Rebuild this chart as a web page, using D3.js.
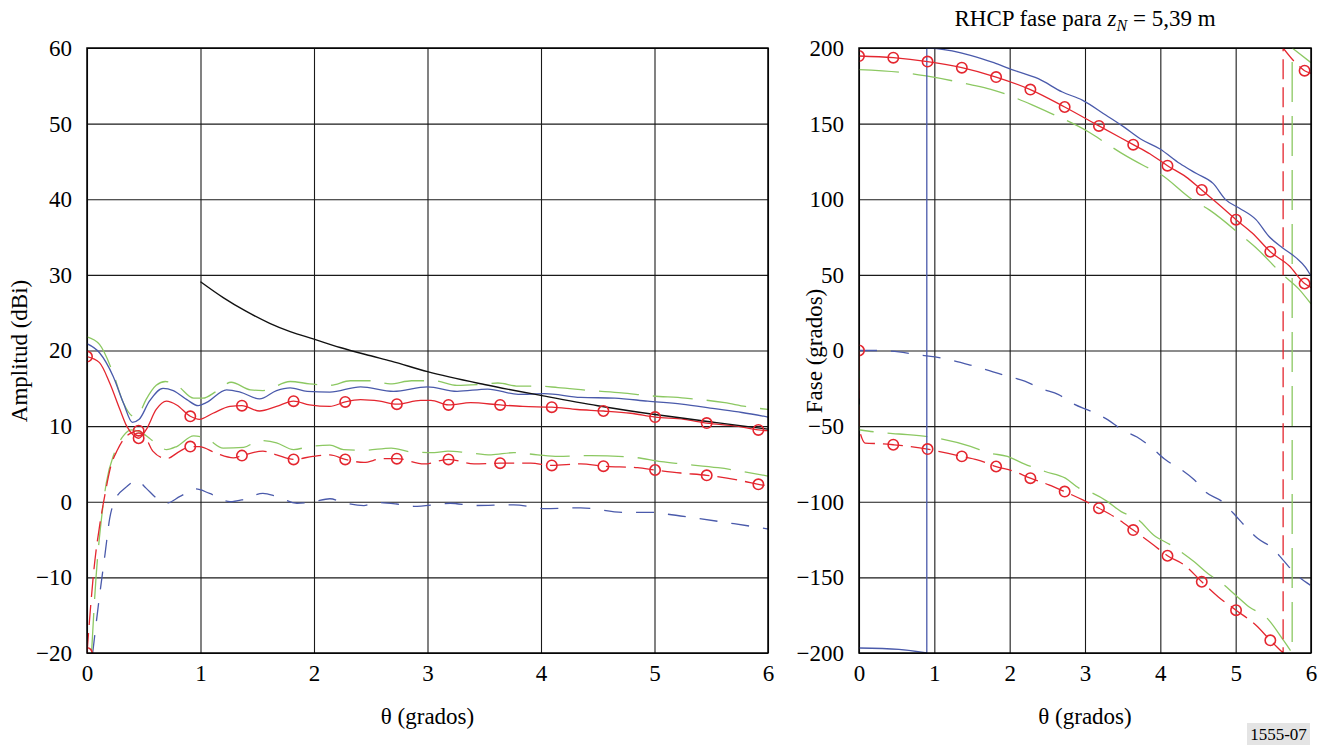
<!DOCTYPE html>
<html>
<head>
<meta charset="utf-8">
<script src="https://cdn.jsdelivr.net/npm/d3@7"></script>
<style>
  body { margin: 0; background: #fff; }
</style>
</head>
<body>
<svg id="chart" width="1334" height="746"></svg>
<script>
// theta values where the red series carry circle markers
const markTheta = [0, 0.455, 0.91, 1.365, 1.82, 2.275, 2.73, 3.185, 3.64, 4.095, 4.55, 5.005, 5.46, 5.915];

const thetaTicks = [0, 1, 2, 3, 4, 5, 6];
const ampTicks = [-20, -10, 0, 10, 20, 30, 40, 50, 60];
const phaseTicks = [-200, -150, -100, -50, 0, 50, 100, 150, 200];

// amplitude (dBi) vs theta, [theta, value]
const ampBlue = [[0,20.9],[0.11,19.7],[0.23,16.6],[0.32,13.1],[0.4,10.5],[0.46,10.9],[0.55,13.3],[0.67,15.0],[0.76,14.7],[0.88,13.5],[0.98,12.7],[1.05,13.1],[1.23,14.8],[1.35,14.5],[1.52,13.6],[1.67,14.7],[1.79,15.05],[1.94,14.6],[2.14,14.5],[2.41,15.2],[2.7,14.6],[3.0,15.2],[3.26,14.6],[3.53,14.9],[3.8,14.2],[4.03,14.3],[4.35,13.8],[4.65,13.7],[4.94,13.3],[5.24,12.9],[5.53,12.3],[5.77,11.8],[6.0,11.2]];
const ampGreen = [[0,21.8],[0.11,20.8],[0.23,17],[0.32,13.1],[0.41,11.3],[0.46,11.7],[0.52,13.5],[0.61,15.4],[0.69,15.9],[0.8,15.3],[0.94,13.7],[1.02,13.7],[1.14,14.6],[1.27,15.8],[1.44,14.8],[1.55,14.7],[1.79,15.9],[1.96,15.6],[2.14,15.4],[2.32,16.0],[2.5,16.0],[2.67,15.6],[2.86,16.0],[3.06,16.0],[3.26,15.4],[3.44,15.5],[3.62,15.7],[3.8,15.3],[3.97,15.3],[4.15,15.1],[4.44,14.7],[4.71,14.4],[4.97,14.0],[5.27,13.7],[5.62,13.1],[5.8,12.6],[6.0,12.2]];
const ampRed = [[0,19.2],[0.11,18.4],[0.2,15.7],[0.29,12.2],[0.35,10.0],[0.41,8.8],[0.455,8.4],[0.52,9.5],[0.61,12.2],[0.7,13.3],[0.79,12.8],[0.91,11.3],[0.99,10.9],[1.11,11.7],[1.26,12.6],[1.365,12.7],[1.52,12.0],[1.67,12.6],[1.82,13.3],[1.96,12.8],[2.14,12.6],[2.275,13.2],[2.41,13.5],[2.58,13.3],[2.73,12.9],[2.94,13.4],[3.03,13.4],[3.185,12.8],[3.38,13.1],[3.64,12.8],[3.84,12.6],[4.095,12.5],[4.32,12.2],[4.55,12.0],[4.79,11.7],[5.005,11.2],[5.26,10.9],[5.46,10.4],[5.73,10.0],[5.915,9.5],[6.0,9.4]];
const ampRedMarks = [19.2, 8.4, 11.3, 12.7, 13.3, 13.2, 12.9, 12.8, 12.8, 12.5, 12.0, 11.2, 10.4, 9.5];
const ampRedX = [[0,-20],[0.07,-7.7],[0.11,-3.3],[0.16,1.1],[0.21,4.7],[0.27,6.9],[0.33,8.4],[0.39,9.1],[0.455,9.4],[0.52,8.4],[0.58,6.7],[0.7,5.7],[0.82,6.7],[0.91,7.3],[0.99,7.3],[1.14,6.4],[1.29,5.8],[1.365,6.1],[1.55,6.7],[1.67,6.2],[1.82,5.6],[1.99,6.0],[2.14,6.2],[2.275,5.6],[2.44,5.2],[2.6,5.7],[2.73,5.7],[2.97,5.0],[3.185,5.6],[3.41,5.0],[3.64,5.1],[3.91,5.1],[4.095,4.8],[4.35,5.0],[4.55,4.7],[4.85,4.5],[5.005,4.2],[5.23,3.8],[5.46,3.5],[5.79,2.7],[5.915,2.3],[6.0,2.1]];
const ampRedXMarks = [-20, 9.4, 7.3, 6.1, 5.6, 5.6, 5.7, 5.6, 5.1, 4.8, 4.7, 4.2, 3.5, 2.3];
const ampGreenX = [[0.04,-20],[0.08,-9.9],[0.13,-1.9],[0.17,2.5],[0.24,6.4],[0.32,8.7],[0.39,9.5],[0.46,9.3],[0.55,8.4],[0.64,7.3],[0.7,6.9],[0.79,7.3],[0.94,8.7],[1.05,8.4],[1.2,7.1],[1.38,7.2],[1.52,8.1],[1.67,7.8],[1.82,6.9],[1.96,7.3],[2.14,7.5],[2.26,6.9],[2.44,6.8],[2.68,7.1],[2.85,6.6],[3.06,6.5],[3.18,6.7],[3.35,6.5],[3.56,6.2],[3.76,6.5],[3.97,6.2],[4.15,6.0],[4.44,6.1],[4.8,5.9],[5.06,5.3],[5.24,5.0],[5.56,4.5],[6.0,3.4]];
const ampBlueX = [[0.05,-20],[0.11,-12.5],[0.16,-6.8],[0.2,-2.2],[0.24,0],[0.35,2.0],[0.44,2.8],[0.52,1.8],[0.61,0.5],[0.7,-0.2],[0.82,0.7],[0.96,1.7],[1.08,1.1],[1.26,0],[1.38,0.3],[1.55,1.1],[1.67,0.7],[1.85,-0.2],[1.99,0],[2.14,0.4],[2.26,-0.1],[2.44,-0.5],[2.55,-0.1],[2.73,-0.3],[2.88,-0.6],[3.12,-0.3],[3.2,-0.2],[3.41,-0.5],[3.76,-0.4],[4.03,-0.9],[4.35,-0.8],[4.74,-1.4],[4.97,-1.4],[5.09,-1.6],[5.38,-2.2],[5.7,-2.9],[6.0,-3.6]];
const ampBlack = [[1,29.1],[1.2,27.0],[1.4,25.2],[1.61,23.6],[1.79,22.5],[2.0,21.5],[2.23,20.4],[2.5,19.3],[2.68,18.6],[3.0,17.2],[3.5,15.5],[4.02,14.0],[4.5,12.7],[5.02,11.5],[5.53,10.5],[6.0,9.6]];

// RHCP phase (grados) vs theta, [theta, value]; a repeated theta is a wrap
const phBlue = [[0,-196.7],[0.53,-197.6],[0.9,-200],[0.9,200],[1.03,199.6],[1.48,195.2],[1.79,190.3],[2.02,185.9],[2.38,179.7],[2.7,170.9],[2.97,165.4],[3.28,155.5],[3.51,148],[3.75,139.5],[3.99,133.4],[4.26,123.6],[4.48,117],[4.7,110.5],[4.87,99.6],[5.05,94.1],[5.27,86.5],[5.44,75.5],[5.62,67.9],[5.8,61.4],[5.93,54.8],[6.0,49.3]];
const phRed = [[0,194.7],[0.455,193.6],[0.91,191],[1.365,187],[1.82,180.8],[2.275,172.5],[2.73,161],[3.185,148.5],[3.64,136.1],[3.86,130.1],[4.095,122.2],[4.34,114.8],[4.55,106.1],[4.78,96.3],[5.005,86.5],[5.22,77.7],[5.46,65.3],[5.71,56],[5.915,44.3],[6.0,41.7]];
const phRedMarks = [194.7, 193.6, 191, 187, 180.8, 172.5, 161, 148.5, 136.1, 122.2, 106.1, 86.5, 65.3, 44.3];
const phRedX = [[0,0],[0,-52],[0.08,-61.2],[0.31,-61.7],[0.455,-62.3],[0.67,-63.4],[0.91,-65.2],[1.12,-67.4],[1.365,-70],[1.57,-72.3],[1.82,-76.7],[2.06,-80],[2.275,-84.4],[2.52,-88.8],[2.73,-93.3],[2.97,-98.8],[3.185,-104.3],[3.42,-110.9],[3.64,-118.7],[3.91,-128.6],[4.095,-135.7],[4.32,-141.9],[4.55,-152.9],[4.77,-162.9],[5.005,-171.7],[5.27,-181.7],[5.46,-191.6],[5.63,-200],[5.63,200],[5.84,188],[5.915,185],[6.0,183.3]];
const phRedXMarks = [0, -62.3, -65.2, -70, -76.7, -84.4, -93.3, -104.3, -118.7, -135.7, -152.9, -171.7, -191.6, 185];
const phGreen = [[0,185.7],[0.62,183.5],[0.89,181.5],[1.48,175.8],[1.75,172.7],[2.29,162.6],[2.54,157],[3.06,144.1],[3.28,137],[3.5,130],[3.77,122.5],[3.99,117],[4.43,99.6],[4.65,93],[5.09,75.5],[5.27,67.9],[5.62,50.4],[5.84,40.6],[6.0,30.8]];
const phGreenX = [[0,0],[0,-52.4],[0.26,-54.1],[0.53,-55.2],[1.03,-57.9],[1.48,-63.4],[1.73,-67.8],[1.97,-70],[2.2,-75.1],[2.47,-80],[2.74,-84.4],[2.92,-91],[3.08,-93.9],[3.3,-99.9],[3.48,-106.5],[3.71,-112],[3.91,-122],[4.14,-128.6],[4.45,-139.7],[4.63,-147.4],[4.82,-154],[5.0,-161.8],[5.18,-169.6],[5.4,-176.1],[5.64,-192],[5.75,-200],[5.75,200],[6.0,190.3]];
const phBlueX = [[0,0],[0.26,0],[0.53,-0.9],[0.76,-2.7],[1.01,-4.2],[1.48,-9.7],[1.73,-13.3],[1.97,-17],[2.2,-20.3],[2.43,-25.4],[2.65,-29.2],[2.85,-35.4],[3.08,-40.2],[3.3,-45.7],[3.49,-52.4],[3.69,-57.2],[3.89,-64.5],[4.07,-72.3],[4.27,-78.5],[4.45,-85.5],[4.61,-93.9],[4.82,-99.9],[4.97,-107.6],[5.13,-116.4],[5.29,-124.2],[5.49,-130.8],[5.63,-138.6],[5.81,-148.5],[5.99,-155.1]];

const BLUE = "#4a5aab", RED = "#e4262f", GREEN = "#8cc862";
const SERIF = "'Liberation Serif', 'DejaVu Serif', 'Times New Roman', serif";

const svg = d3.select("#chart").style("font-family", SERIF);
svg.append("rect").attr("width", 1334).attr("height", 746).attr("fill", "#fff");

const plotTop = 48, plotBottom = 653;

function label(sel, size) {
  return sel.style("font-family", SERIF).style("font-size", size + "px").attr("fill", "#000");
}

function panel(id, x0, x1, yDomain, yTicks) {
  const x = d3.scaleLinear().domain([0, 6]).range([x0, x1]);
  const y = d3.scaleLinear().domain(yDomain).range([plotBottom, plotTop]);
  const g = svg.append("g");

  g.append("clipPath").attr("id", id).append("rect")
    .attr("x", x0).attr("y", plotTop).attr("width", x1 - x0).attr("height", plotBottom - plotTop);

  const yAxis = g.append("g").attr("transform", `translate(${x0},0)`)
    .call(d3.axisLeft(y).tickValues(yTicks).tickFormat(d3.format("d"))
      .tickSize(-(x1 - x0)).tickPadding(15));
  const xAxis = g.append("g").attr("transform", `translate(0,${plotBottom})`)
    .call(d3.axisBottom(x).tickValues(thetaTicks).tickFormat(d3.format("d"))
      .tickSize(-(plotBottom - plotTop)).tickPadding(12));
  [yAxis, xAxis].forEach((a) => {
    a.select(".domain").remove();
    a.attr("font-family", null).attr("font-size", null);
    a.selectAll("line").attr("stroke", "#1a1a1a").attr("stroke-width", 1.1);
    label(a.selectAll("text"), 23);
  });

  const lines = g.append("g").attr("clip-path", `url(#${id})`);
  return { x, y, g, lines, x0, x1 };
}

// smooth curve, but a repeated theta draws a straight vertical (phase wrap)
function pathFor(p, pts) {
  const line = d3.line().x((d) => p.x(d[0])).y((d) => p.y(d[1])).curve(d3.curveMonotoneX);
  const runs = [[pts[0]]];
  for (let i = 1; i < pts.length; i++) {
    if (pts[i][0] === pts[i - 1][0]) runs.push([pts[i]]);
    else runs[runs.length - 1].push(pts[i]);
  }
  return runs.map((r, i) => {
    if (r.length === 1) return (i ? "L" : "M") + p.x(r[0][0]) + "," + p.y(r[0][1]);
    const s = line(r);
    return i ? "L" + s.slice(1) : s;
  }).join("");
}

function series(p, pts, color, dash, width = 1.3) {
  p.lines.append("path")
    .attr("d", pathFor(p, pts))
    .attr("fill", "none")
    .attr("stroke", color)
    .attr("stroke-width", width)
    .attr("stroke-dasharray", dash);
}

function marks(p, vals) {
  p.lines.selectAll(null)
    .data(vals.map((v, i) => [markTheta[i], v]))
    .enter().append("circle")
    .attr("cx", (d) => p.x(d[0]))
    .attr("cy", (d) => p.y(d[1]))
    .attr("r", 5.2)
    .attr("fill", "none")
    .attr("stroke", RED)
    .attr("stroke-width", 1.6);
}

// left: amplitude
const L = panel("clipL", 87, 768, [-20, 60], ampTicks);
series(L, ampBlueX, BLUE, "18,14");
series(L, ampGreenX, GREEN, "40,14");
series(L, ampRedX, RED, "20,8");
series(L, ampGreen, GREEN, "40,14");
series(L, ampBlue, BLUE, null);
series(L, ampRed, RED, null);
series(L, ampBlack, "#111", null, 1.4);
marks(L, ampRedMarks);
marks(L, ampRedXMarks);

// right: phase
const R = panel("clipR", 859, 1311, [-200, 200], phaseTicks);
series(R, phBlueX, BLUE, "18,14");
series(R, phGreenX, GREEN, "40,14");
series(R, phRedX, RED, "20,8");
series(R, phGreen, GREEN, "40,14");
series(R, phBlue, BLUE, null);
series(R, phRed, RED, null);
marks(R, phRedMarks);
marks(R, phRedXMarks);

[L, R].forEach((p) => {
  p.g.append("rect")
    .attr("x", p.x0).attr("y", plotTop).attr("width", p.x1 - p.x0).attr("height", plotBottom - plotTop)
    .attr("fill", "none").attr("stroke", "#000").attr("stroke-width", 1.5);
  label(p.g.append("text"), 23)
    .attr("x", (p.x0 + p.x1) / 2).attr("y", 724)
    .attr("text-anchor", "middle")
    .text("θ (grados)");
});

label(svg.append("text"), 23)
  .attr("transform", "translate(27,351) rotate(-90)")
  .attr("text-anchor", "middle")
  .text("Amplitud (dBi)");
label(svg.append("text"), 23)
  .attr("transform", "translate(822,351) rotate(-90)")
  .attr("text-anchor", "middle")
  .text("Fase (grados)");

const title = label(svg.append("text"), 23)
  .attr("x", 1085).attr("y", 26)
  .attr("text-anchor", "middle");
title.append("tspan").text("RHCP fase para ");
title.append("tspan").style("font-style", "italic").text("z");
title.append("tspan").style("font-style", "italic").style("font-size", "16px").attr("dy", 5).text("N");
title.append("tspan").attr("dy", -5).text(" = 5,39 m");

svg.append("rect").attr("x", 1247).attr("y", 723).attr("width", 63).attr("height", 22).attr("fill", "#e4e4e4");
label(svg.append("text"), 17)
  .attr("x", 1278.5).attr("y", 740)
  .attr("text-anchor", "middle")
  .text("1555-07");
</script>
</body>
</html>
